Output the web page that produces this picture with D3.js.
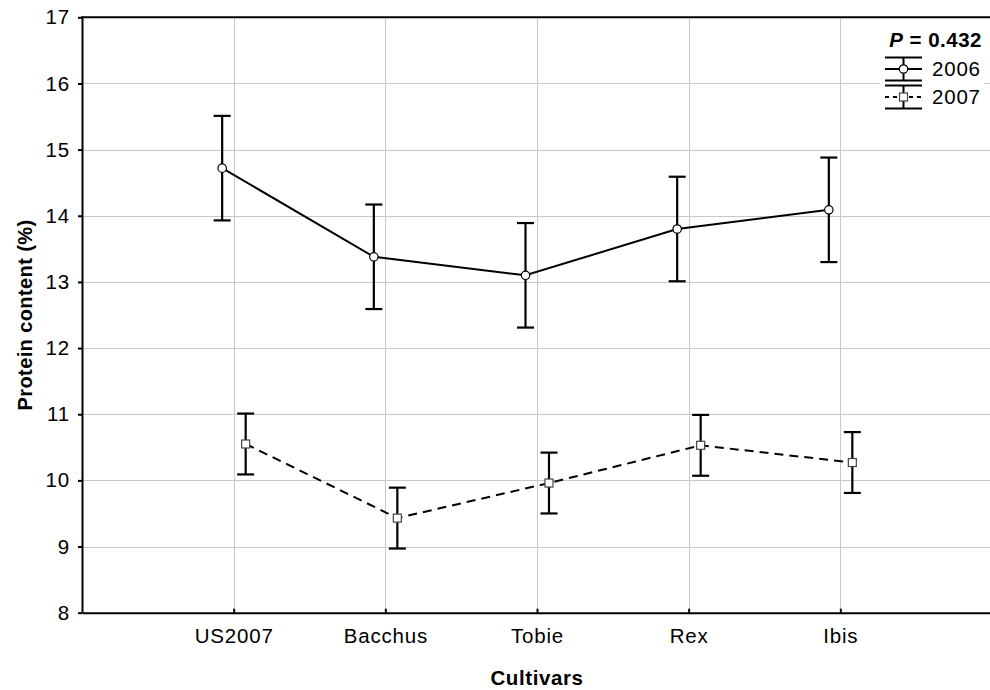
<!DOCTYPE html>
<html>
<head>
<meta charset="utf-8">
<script src="https://cdn.jsdelivr.net/npm/d3@7"></script>
<style>
  html, body { margin: 0; padding: 0; background: #fff; }
  svg { display: block; }
  text { font-family: "Liberation Sans", Arial, sans-serif; fill: #000; }
</style>
</head>
<body>
<svg id="chart" width="990" height="690"></svg>
<script>
// Cultivars on the x axis
const cultivars = ["US2007", "Bacchus", "Tobie", "Rex", "Ibis"];

// Mean protein content (%) and half-width of the error bar, per year
const mean2006 = [14.72, 13.38, 13.10, 13.80, 14.09];
const err2006  = [0.79, 0.79, 0.79, 0.79, 0.79];
const mean2007 = [10.55, 9.43, 9.96, 10.53, 10.27];
const err2007  = [0.46, 0.46, 0.46, 0.46, 0.46];

// Axis ticks
const yTicks = [8, 9, 10, 11, 12, 13, 14, 15, 16, 17];
const yDomain = [8, 17];

const seriesNames = ["2006", "2007"];
const pLabel = "0.432";

const series = [
  { name: seriesNames[0], means: mean2006, errs: err2006, shift: -11.5, dash: null, symbol: "circle" },
  { name: seriesNames[1], means: mean2007, errs: err2007, shift: 12, dash: "9,6", symbol: "square" }
];

const svg = d3.select("#chart");
const plotL = 82, plotR = 992, plotT = 17.3, plotB = 612.7;

const x = d3.scalePoint().domain(cultivars).range([plotL, plotR]).padding(1);
const y = d3.scaleLinear().domain(yDomain).range([plotB, plotT]);

// Grid
const grid = svg.append("g").attr("stroke", "#c8c8c8").attr("stroke-width", 1);
grid.selectAll("line.h").data(yTicks.slice(1, -1)).join("line").attr("class", "h")
  .attr("x1", plotL).attr("x2", plotR)
  .attr("y1", d => Math.round(y(d)) + 0.5).attr("y2", d => Math.round(y(d)) + 0.5);
grid.selectAll("line.v").data(cultivars).join("line").attr("class", "v")
  .attr("y1", plotT).attr("y2", plotB)
  .attr("x1", d => Math.round(x(d)) + 0.5).attr("x2", d => Math.round(x(d)) + 0.5);

// Axes
const yAxis = svg.append("g").attr("transform", `translate(${plotL},0)`)
  .call(d3.axisLeft(y).tickValues(yTicks).tickSize(4).tickSizeOuter(0).tickPadding(8).tickFormat(d3.format("d")));
const xAxis = svg.append("g").attr("transform", `translate(0,${plotB})`)
  .call(d3.axisBottom(x).tickSize(-4).tickSizeOuter(0).tickPadding(16));
[yAxis, xAxis].forEach(g => {
  g.select(".domain").attr("stroke", "#000").attr("stroke-width", 2);
  g.selectAll(".tick line").attr("stroke", "#000").attr("stroke-width", 2);
  g.selectAll(".tick text").attr("font-size", 20.5).style("letter-spacing", "0.8px")
    .attr("font-family", "Liberation Sans, Arial, sans-serif");
});
// Frame top edge
svg.append("line").attr("x1", plotL - 1).attr("x2", plotR).attr("y1", plotT).attr("y2", plotT)
  .attr("stroke", "#000").attr("stroke-width", 2);

// Series lines, error bars and markers
const line = d3.line().x(d => d.x).y(d => y(d.v));
series.forEach(s => {
  const pts = cultivars.map((c, i) => ({ x: x(c) + s.shift, v: s.means[i], e: s.errs[i] }));
  const g = svg.append("g");
  g.append("path").datum(pts).attr("d", line)
    .attr("fill", "none").attr("stroke", "#000").attr("stroke-width", 2)
    .attr("stroke-dasharray", s.dash);
  const eb = g.selectAll("g.eb").data(pts).join("g").attr("class", "eb")
    .attr("stroke", "#000").attr("stroke-width", 2.2);
  eb.append("line").attr("x1", d => d.x).attr("x2", d => d.x)
    .attr("y1", d => y(d.v + d.e)).attr("y2", d => y(d.v - d.e));
  eb.append("line").attr("x1", d => d.x - 8.5).attr("x2", d => d.x + 8.5)
    .attr("y1", d => y(d.v + d.e)).attr("y2", d => y(d.v + d.e));
  eb.append("line").attr("x1", d => d.x - 8.5).attr("x2", d => d.x + 8.5)
    .attr("y1", d => y(d.v - d.e)).attr("y2", d => y(d.v - d.e));
  if (s.symbol === "circle") {
    g.selectAll("circle").data(pts).join("circle")
      .attr("cx", d => d.x).attr("cy", d => y(d.v)).attr("r", 4.2)
      .attr("fill", "#fff").attr("stroke", "#000").attr("stroke-width", 1.2);
  } else {
    g.selectAll("rect").data(pts).join("rect")
      .attr("x", d => d.x - 4).attr("y", d => y(d.v) - 4).attr("width", 8).attr("height", 8)
      .attr("fill", "#fff").attr("stroke", "#444").attr("stroke-width", 1.2);
  }
});

// Axis titles
svg.append("text").attr("transform", "rotate(-90)")
  .attr("x", -(plotT + plotB) / 2).attr("y", 32)
  .attr("text-anchor", "middle").attr("font-size", 20).attr("font-weight", "bold")
  .style("letter-spacing", "0.4px").text("Protein content (%)");
svg.append("text").attr("x", (plotL + plotR) / 2).attr("y", 685)
  .attr("text-anchor", "middle").attr("font-size", 20.5).attr("font-weight", "bold")
  .style("letter-spacing", "0.6px").text("Cultivars");

// Legend
const lg = svg.append("g");
lg.append("rect").attr("x", 880).attr("y", 27).attr("width", 104).attr("height", 86).attr("fill", "#fff");
const pt = lg.append("text").attr("x", 982).attr("y", 47).attr("text-anchor", "end")
  .attr("font-size", 20.5).attr("font-weight", "bold").style("letter-spacing", "0.5px");
pt.append("tspan").attr("font-style", "italic").text("P");
pt.append("tspan").text(" = " + pLabel);

const rows = [69, 97];
series.forEach((s, i) => {
  const cy = rows[i], x0 = 885, x1 = 922, cx = 903.5;
  const r = lg.append("g").attr("stroke", "#000").attr("stroke-width", 2);
  r.append("line").attr("x1", x0).attr("x2", x1).attr("y1", cy - 11.5).attr("y2", cy - 11.5);
  r.append("line").attr("x1", x0).attr("x2", x1).attr("y1", cy + 11.5).attr("y2", cy + 11.5);
  r.append("line").attr("x1", cx).attr("x2", cx).attr("y1", cy - 11.5).attr("y2", cy + 11.5);
  r.append("line").attr("x1", x0).attr("x2", x1).attr("y1", cy).attr("y2", cy)
    .attr("stroke-dasharray", s.dash ? "4,4" : null);
  if (s.symbol === "circle") {
    r.append("circle").attr("cx", cx).attr("cy", cy).attr("r", 4.2)
      .attr("fill", "#fff").attr("stroke-width", 1.2);
  } else {
    r.append("rect").attr("x", cx - 4).attr("y", cy - 4).attr("width", 8).attr("height", 8)
      .attr("fill", "#fff").attr("stroke", "#444").attr("stroke-width", 1.2);
  }
  lg.append("text").attr("x", 932).attr("y", cy + 7).attr("font-size", 20.5)
    .style("letter-spacing", "0.8px").text(s.name);
});
</script>
</body>
</html>
